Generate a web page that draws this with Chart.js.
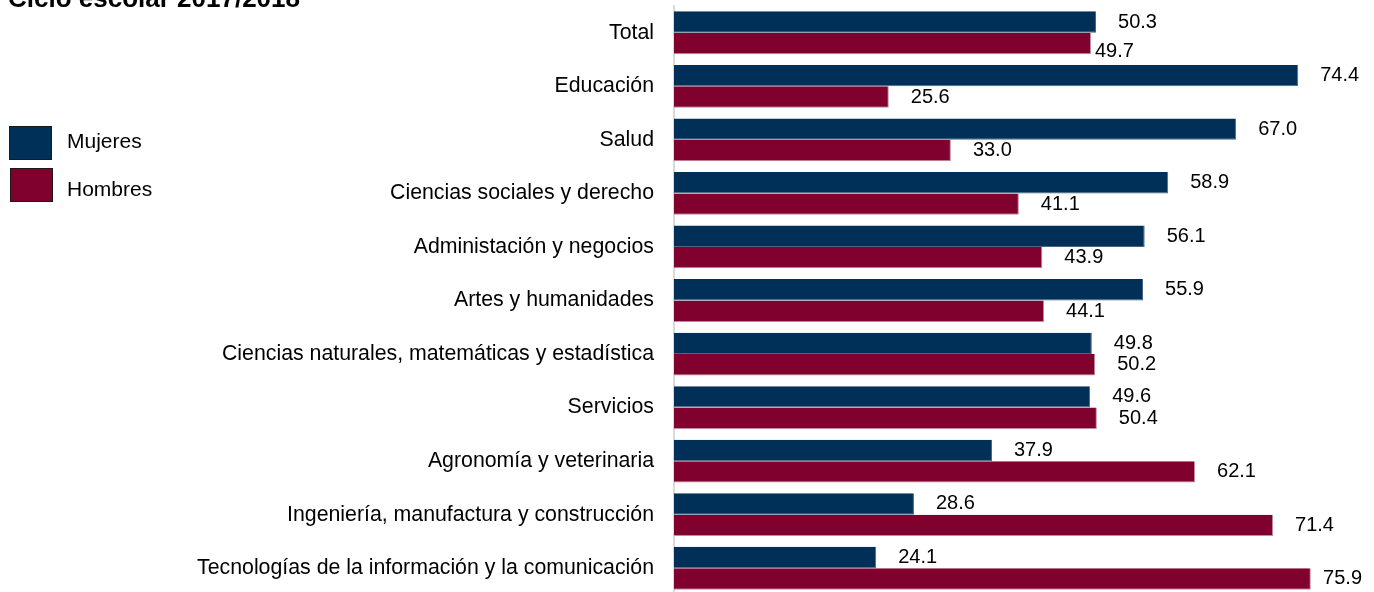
<!DOCTYPE html>
<html>
<head>
<meta charset="utf-8">
<script src="https://cdn.jsdelivr.net/npm/chart.js@4"></script>
<style>
  html, body { margin: 0; padding: 0; background: #fff; overflow: hidden; }
  #wrap { position: relative; width: 1374px; height: 598px; }
</style>
</head>
<body>
<div id="wrap"><canvas id="myChart"></canvas></div>
<script>
var titulo = "Ciclo escolar 2017/2018";
var categorias = [
  "Total",
  "Educación",
  "Salud",
  "Ciencias sociales y derecho",
  "Administación y negocios",
  "Artes y humanidades",
  "Ciencias naturales, matemáticas y estadística",
  "Servicios",
  "Agronomía y veterinaria",
  "Ingeniería, manufactura y construcción",
  "Tecnologías de la información y la comunicación",
];
var mujeres = [50.3, 74.4, 67.0, 58.9, 56.1, 55.9, 49.8, 49.6, 37.9, 28.6, 24.1];
var hombres = [49.7, 25.6, 33.0, 41.1, 43.9, 44.1, 50.2, 50.4, 62.1, 71.4, 75.9];

var FONT = "Liberation Sans, Arial, sans-serif";

// etiquetas de valor, leyenda y titulo
var extras = {
  id: "extras",
  afterDatasetsDraw: function (chart) {
    var ctx = chart.ctx;
    var area = chart.chartArea;
    ctx.save();
    ctx.font = "20px " + FONT;
    ctx.fillStyle = "#000";
    ctx.textBaseline = "middle";
    ctx.textAlign = "left";
    chart.data.datasets.forEach(function (ds, di) {
      var meta = chart.getDatasetMeta(di);
      meta.data.forEach(function (bar, i) {
        var txt = ds.data[i].toFixed(1);
        var w = ctx.measureText(txt).width;
        var x = bar.x + 22;
        var y = bar.y;
        if (di === 1 && i === 0) {
          x = bar.x + 4;
          y = bar.y + 8;
        }
        if (x + w > area.right) x = area.right - w;
        ctx.fillText(txt, x, y);
      });
    });

    // leyenda
    ctx.font = "21px " + FONT;
    var boxes = [[9, 126], [10, 168]];
    var textY = [142, 190];
    chart.data.datasets.forEach(function (ds, di) {
      ctx.fillStyle = ds.backgroundColor;
      ctx.fillRect(boxes[di][0], boxes[di][1], 42, 33);
      ctx.strokeStyle = "#1a1a1a";
      ctx.lineWidth = 1;
      ctx.strokeRect(boxes[di][0] + 0.5, boxes[di][1] + 0.5, 42, 33);
      ctx.fillStyle = "#000";
      ctx.fillText(ds.label, 67, textY[di]);
    });

    // titulo (cortado arriba)
    ctx.font = "bold 26px " + FONT;
    ctx.textBaseline = "alphabetic";
    ctx.fillText(titulo, 8, 7);
    ctx.restore();
  },
};

var ctx = document.getElementById("myChart");
var myChart = new Chart(ctx, {
  type: "bar",
  data: {
    labels: categorias,
    datasets: [
      {
        label: "Mujeres",
        data: mujeres,
        backgroundColor: "#003057",
        borderColor: "#4a6683",
        borderWidth: { top: 0, right: 1, bottom: 1, left: 0 },
        borderSkipped: "left",
      },
      {
        label: "Hombres",
        data: hombres,
        backgroundColor: "#80002e",
        borderColor: "#c08aa0",
        borderWidth: { top: 0, right: 1, bottom: 1, left: 0 },
        borderSkipped: "left",
      },
    ],
  },
  options: {
    indexAxis: "y",
    responsive: true,
    maintainAspectRatio: false,
    animation: false,
    layout: { padding: { top: 6, bottom: 3, right: 12, left: 0 } },
    datasets: {
      bar: { categoryPercentage: 0.8, barPercentage: 1.0 },
    },
    scales: {
      x: { display: false, min: 0, max: 82 },
      y: {
        grid: { display: false, drawTicks: false },
        border: { display: true, color: "#d9d9d9", width: 2 },
        ticks: {
          color: "#000",
          padding: 20,
          font: { family: FONT, size: 21.3 },
        },
        afterFit: function (scale) {
          scale.width = 674;
          scale.paddingTop = 0;
          scale.paddingBottom = 0;
        },
      },
    },
    plugins: {
      legend: { display: false },
      tooltip: { enabled: false },
    },
  },
  plugins: [extras],
});
</script>
</body>
</html>
